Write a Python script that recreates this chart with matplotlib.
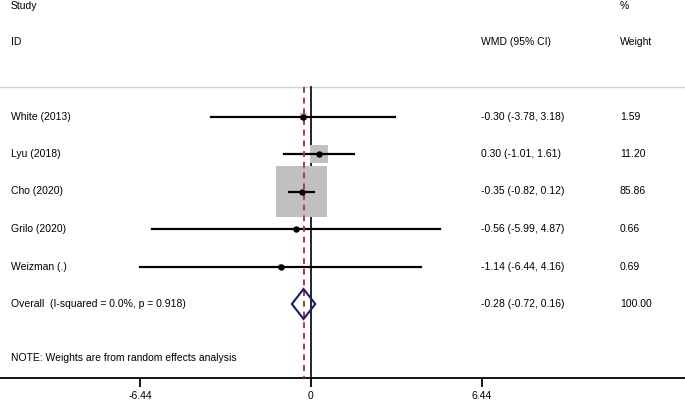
import matplotlib
matplotlib.use("Agg")
import matplotlib.pyplot as plt
from matplotlib.patches import Rectangle, Polygon
import numpy as np

plt.rcParams['font.family'] = ['Liberation Sans', 'DejaVu Sans']

studies = ["White (2013)", "Lyu (2018)", "Cho (2020)", "Grilo (2020)", "Weizman (.)"]
wmd = [-0.30, 0.30, -0.35, -0.56, -1.14]
lo = [-3.78, -1.01, -0.82, -5.99, -6.44]
hi = [3.18, 1.61, 0.12, 4.87, 4.16]
weights = [1.59, 11.20, 85.86, 0.66, 0.69]
ci_text = ["-0.30 (-3.78, 3.18)", "0.30 (-1.01, 1.61)", "-0.35 (-0.82, 0.12)",
           "-0.56 (-5.99, 4.87)", "-1.14 (-6.44, 4.16)"]
weight_text = ["1.59", "11.20", "85.86", "0.66", "0.69"]
overall_label = "Overall  (I-squared = 0.0%, p = 0.918)"
overall_est, overall_lo, overall_hi = -0.28, -0.72, 0.16
overall_ci_text = "-0.28 (-0.72, 0.16)"
overall_weight_text = "100.00"
xticks = [-6.44, 0, 6.44]
xticklabels = ["-6.44", "0", "6.44"]

W, H = 685, 403
fig = plt.figure(figsize=(W/100, H/100), dpi=100)
axis_px = 378
ax = fig.add_axes([0, (H - axis_px)/H, 1, axis_px/H])
pxu = 171/6.44
x0 = 311
ax.set_xlim(-x0/pxu, (W - x0)/pxu)
ax.set_ylim(axis_px, 0)
for s in ['top', 'left', 'right']:
    ax.spines[s].set_visible(False)
ax.spines['bottom'].set_linewidth(1.3)
ax.set_yticks([])
ax.set_xticks(xticks)
fs = 7.5
ax.set_xticklabels(xticklabels, fontsize=fs)
ax.tick_params(axis='x', direction='out', length=6.5, width=1.3, pad=3.2)

row0, dy = 116.5, 37.5
rows = [row0 + i*dy for i in range(len(studies))]
y_over = row0 + len(studies)*dy

def tx(px):
    return (px - x0)/pxu

xl, xc, xw = 11, 481, 620
# headers
ax.text(tx(xl), 6, "Study", fontsize=fs, va='center', ha='left', clip_on=False)
ax.text(tx(xl), 42, "ID", fontsize=fs, va='center', ha='left')
ax.text(tx(xc), 42, "WMD (95% CI)", fontsize=fs, va='center', ha='left')
ax.text(tx(xw), 6, "%", fontsize=fs, va='center', ha='left', clip_on=False)
ax.text(tx(xw), 42, "Weight", fontsize=fs, va='center', ha='left')

top = 87
ax.axhline(top, color='#d3d3d3', lw=1)
ax.plot([0, 0], [top, axis_px], color='black', lw=1.2, zorder=2)
ax.plot([overall_est, overall_est], [top, axis_px], color='#a83c3c', lw=1.4,
        ls=(0, (3, 2.5)), zorder=5)

k = 5.5
for i, y in enumerate(rows):
    side = k*np.sqrt(weights[i])
    ax.add_patch(Rectangle((wmd[i] - side/2/pxu, y - side/2), side/pxu, side,
                           facecolor='#c0c0c0', edgecolor='none', zorder=3))
    ax.plot([lo[i], hi[i]], [y, y], color='black', lw=1.6, zorder=4)
    ax.plot([wmd[i]], [y], 'o', color='black', ms=3.6, zorder=6)
    ax.text(tx(xl), y, studies[i], fontsize=fs, va='center', ha='left')
    ax.text(tx(xc), y, ci_text[i], fontsize=fs, va='center', ha='left')
    ax.text(tx(xw), y, weight_text[i], fontsize=fs, va='center', ha='left')

hh = 15
ax.add_patch(Polygon([[overall_lo, y_over], [overall_est, y_over - hh],
                      [overall_hi, y_over], [overall_est, y_over + hh]],
                     closed=True, fill=False, edgecolor='#1a1a6e', lw=1.5, zorder=7))
ax.text(tx(xl), y_over, overall_label, fontsize=fs, va='center', ha='left')
ax.text(tx(xc), y_over, overall_ci_text, fontsize=fs, va='center', ha='left')
ax.text(tx(xw), y_over, overall_weight_text, fontsize=fs, va='center', ha='left')

ax.text(tx(xl), 358, "NOTE: Weights are from random effects analysis", fontsize=fs,
        va='center', ha='left')

fig.savefig("out.png", dpi=100)
